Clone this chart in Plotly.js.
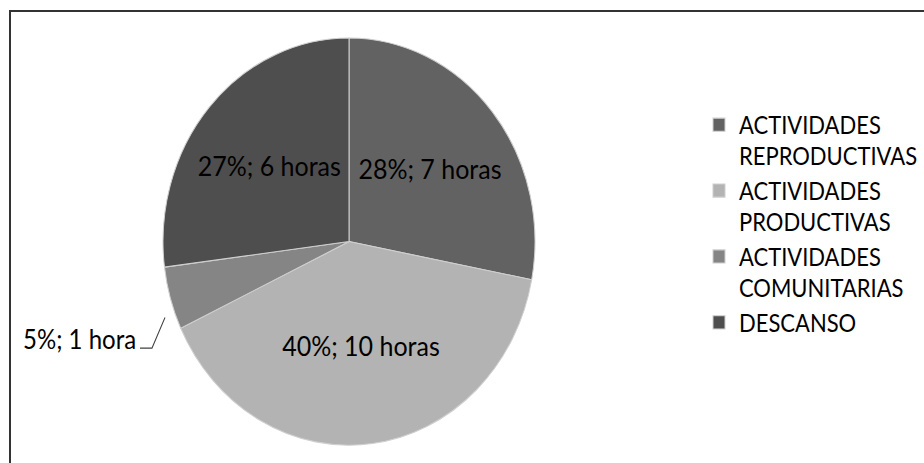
<!DOCTYPE html>
<html>
<head>
<meta charset="utf-8">
<script src="https://cdn.plot.ly/plotly-3.0.1.min.js"></script>
<style>
  html { margin: 0; padding: 0; background: #ffffff; overflow: hidden; }
  body { margin: 0; padding: 0; background: #ffffff; width: 924px; height: 463px; position: relative; overflow: visible; }
  #plot { width: 924px; height: 423px; transform: scaleY(1.0946); transform-origin: 0 0; }
  #frame { position: absolute; left: 9px; top: 10px; width: 1000px; height: 1000px;
           border: 2px solid #333333; pointer-events: none; }
</style>
</head>
<body>
<div id="plot"></div>
<div id="frame"></div>
<script>
const categories = ['ACTIVIDADES<br>REPRODUCTIVAS', 'ACTIVIDADES<br>PRODUCTIVAS', 'ACTIVIDADES<br>COMUNITARIAS', 'DESCANSO'];
const percentValues = [28, 40, 5, 27];
const hourLabels = ['7 horas', '10 horas', '1 hora', '6 horas'];
const sliceColors = ['#626262', '#b3b3b3', '#858585', '#4e4e4e'];
const outsideIndex = 2;

const fontFamily = 'Lato, "Liberation Sans", sans-serif';

const texts = percentValues.map((v, i) => i === outsideIndex ? '' : v + '%; ' + hourLabels[i]);

const trace = {
  type: 'pie',
  labels: categories,
  values: percentValues,
  text: texts,
  textinfo: 'text',
  textposition: 'inside',
  insidetextorientation: 'horizontal',
  sort: false,
  direction: 'clockwise',
  rotation: 0,
  marker: { colors: sliceColors, line: { color: '#cfcfcf', width: 1 } },
  textfont: { family: fontFamily, size: 25, color: '#000000' },
  domain: { x: [163 / 924, 535 / 924], y: [16.3 / 423, 388.3 / 423] },
  hoverinfo: 'label+value'
};

const layout = {
  width: 924,
  height: 423,
  margin: { l: 0, r: 0, t: 0, b: 0, autoexpand: false },
  paper_bgcolor: '#ffffff',
  showlegend: true,
  legend: {
    x: 699 / 924, xanchor: 'left',
    y: 1 - 204.6 / 423, yanchor: 'middle',
    valign: 'top',
    font: { family: fontFamily, size: 22, color: '#000000' },
    itemwidth: 30,
    bgcolor: 'rgba(0,0,0,0)'
  },
  annotations: [{
    xref: 'paper', yref: 'paper',
    x: 138 / 924, y: 1 - 309 / 423,
    xanchor: 'right', yanchor: 'middle',
    text: percentValues[outsideIndex] + '%; ' + hourLabels[outsideIndex],
    showarrow: false,
    font: { family: fontFamily, size: 24, color: '#000000' }
  }],
  shapes: [{
    type: 'path', xref: 'paper', yref: 'paper',
    path: 'M ' + (140 / 924) + ' ' + (1 - 318 / 423) + ' L ' + (152 / 924) + ' ' + (1 - 318 / 423) +
          ' L ' + (165 / 924) + ' ' + (1 - 290 / 423),
    line: { color: '#404040', width: 1 }
  }]
};

Plotly.newPlot('plot', [trace], layout, { displayModeBar: false, staticPlot: true });
</script>
</body>
</html>
